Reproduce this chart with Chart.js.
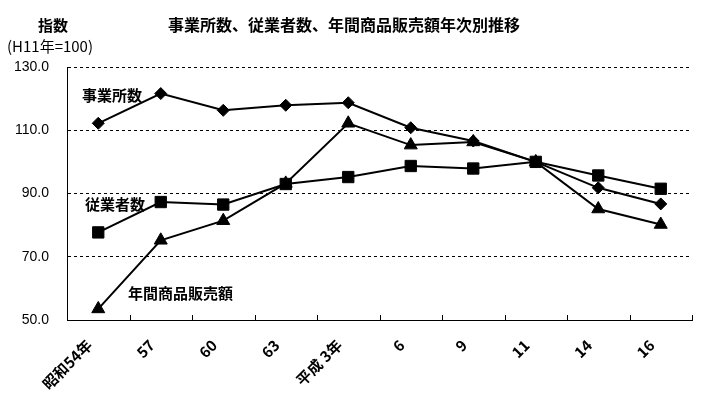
<!DOCTYPE html>
<html>
<head>
<meta charset="utf-8">
<script src="https://cdn.jsdelivr.net/npm/chart.js@4"></script>
<style>
  html, body { margin: 0; padding: 0; background: #fff; }
</style>
</head>
<body>
<canvas id="chart" width="703" height="399"></canvas>
<script>
// 年次 (x軸)
const years = ['昭和54年', '57', '60', '63', '平成 3年', '6', '9', '11', '14', '16'];
// 指数 (H11年=100)
const jigyoshoSu = [112.2, 121.6, 116.3, 117.9, 118.7, 110.8, 106.6, 100.0, 91.8, 86.7];
const jugyoshaSu = [77.7, 87.3, 86.5, 93.0, 95.2, 98.7, 97.9, 100.0, 95.7, 91.5];
const hanbaiGaku = [53.5, 75.2, 81.4, 93.2, 112.2, 105.3, 106.3, 100.0, 85.1, 80.2];
const yMin = 50, yMax = 130, yStep = 20;

const jpFont = "'Noto Sans CJK JP', sans-serif";

// 見出しと系列名のテキスト
const textPlugin = {
  id: 'texts',
  afterDraw(chart) {
    const c = chart.ctx;
    c.save();
    c.fillStyle = '#000';
    c.textBaseline = 'middle';
    c.font = 'bold 15px ' + jpFont;
    c.fillText('指数', 38, 25);
    c.font = '15px ' + jpFont;
    c.fillText('(H11年=100)', 7, 46);
    c.font = 'bold 16px ' + jpFont;
    c.fillText('事業所数、従業者数、年間商品販売額年次別推移', 168, 25);
    c.font = 'bold 15px ' + jpFont;
    c.fillText('事業所数', 82, 95);
    c.fillText('従業者数', 85, 204);
    c.fillText('年間商品販売額', 128, 293);
    c.restore();
  }
};

// x軸の内向き目盛り
const innerTicks = {
  id: 'innerTicks',
  afterDatasetsDraw(chart) {
    const xs = chart.scales.x;
    const c = chart.ctx;
    const bottom = chart.chartArea.bottom;
    c.save();
    c.strokeStyle = '#000';
    c.lineWidth = 1;
    c.beginPath();
    for (let i = 0; i <= years.length; i++) {
      const x = Math.round(xs.getPixelForValue(i - 0.5)) + 0.5;
      c.moveTo(x, bottom);
      c.lineTo(x, bottom - 5);
    }
    c.stroke();
    c.restore();
  }
};

function series(data, style, radius) {
  return {
    data: data,
    borderColor: '#000',
    backgroundColor: '#000',
    borderWidth: 2,
    pointStyle: style,
    pointRadius: radius,
    pointBorderWidth: 1,
    tension: 0
  };
}

new Chart(document.getElementById('chart'), {
  type: 'line',
  data: {
    labels: years,
    datasets: [
      series(jigyoshoSu, 'rectRot', 6),
      series(jugyoshaSu, 'rect', 8),
      series(hanbaiGaku, 'triangle', 7.5)
    ]
  },
  options: {
    responsive: false,
    animation: false,
    layout: { padding: { top: 67, right: 11, left: 0, bottom: 0 } },
    plugins: { legend: { display: false }, tooltip: { enabled: false } },
    scales: {
      x: {
        offset: true,
        grid: { display: false },
        border: { display: true, color: '#000', width: 1 },
        ticks: {
          color: '#000',
          font: { family: jpFont, size: 15, weight: 'bold' },
          minRotation: 45,
          maxRotation: 45,
          padding: 8,
          labelOffset: -9
        },
        afterFit(scale) { scale.height = 79; }
      },
      y: {
        min: yMin,
        max: yMax,
        grid: {
          drawTicks: false,
          color: (ctx) => ctx.tick && ctx.tick.value === yMin ? 'rgba(0,0,0,0)' : '#000',
          lineWidth: 1
        },
        border: { display: true, color: '#000', width: 1, dash: [3, 3] },
        ticks: {
          stepSize: yStep,
          color: '#000',
          padding: 18,
          font: { family: "'Liberation Sans', Arial, sans-serif", size: 14 },
          callback: (v) => v.toFixed(1)
        },
        afterFit(scale) { scale.width = 67; }
      }
    }
  },
  plugins: [textPlugin, innerTicks]
});
</script>
</body>
</html>
